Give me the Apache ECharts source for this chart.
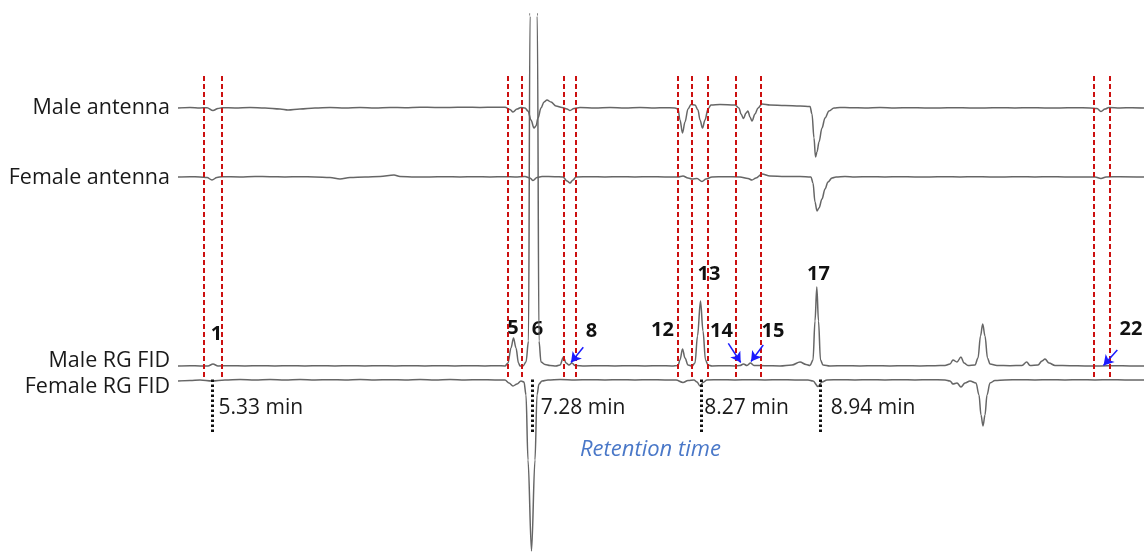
<!DOCTYPE html>
<html><head><meta charset="utf-8">
<script src="https://cdn.jsdelivr.net/npm/echarts@6/dist/echarts.min.js"></script>
<style>html,body{margin:0;padding:0;background:#fff}#c{width:1144px;height:554px}</style>
</head><body><div id="c"></div>
<script>
// ---- data (x = chromatogram position, signal = deflection from each trace's baseline) ----
const traceNames = ['Male antenna', 'Female antenna', 'Male RG FID', 'Female RG FID'];
const traceBaselines = [446, 377, 188, 174];

const maleAntenna = [[178,0],[190,0.5],[200,0],[207,0.3],[213,-2.5],[218,-0.5],[222,0.3],[235,0],[250,0.5],[265,0],[280,-1],[288,-2],[300,-1],[315,0],[330,0.5],[345,0],[360,0.5],[375,0],[390,0.5],[405,0.3],[420,0.8],[435,0.5],[450,0.5],[465,0.8],[480,0.5],[495,0.8],[505,0.8],[510,-1.5],[513,-4],[517,-1],[521,0.5],[525,0],[528,-3],[531,-12],[534,-20],[536,-18],[538,-10],[541,0],[544,6],[547,8],[551,6],[556,2],[562,0.5],[567,-1],[570,-2.5],[574,-0.5],[580,0.5],[595,0],[610,0.5],[625,0],[640,0.5],[655,0],[665,0.3],[675,0],[678,-1],[680,-12],[682.5,-25],[685,-14],[688,-1],[691,3.5],[695,3],[698,-2],[700,-12],[702.5,-20],[705,-12],[708,-1],[711,3],[720,3.5],[735,3],[739,0],[741,-6],[743.5,-10.5],[746,-5],[748,-3],[750,-9],[752,-13],[755,-6],[758,0],[762,4],[770,3],[785,2.5],[800,2],[810,1.5],[812,-6],[814,-30],[815.5,-49],[817,-44],[819,-34],[822,-20],[825,-10],[829,-3],[834,0],[840,0.5],[850,0.3],[865,0],[880,0.5],[895,0],[910,0.3],[925,0],[940,0],[955,0.3],[970,0],[985,0],[1000,0.3],[1015,0],[1030,0.3],[1045,0],[1060,0],[1075,0.3],[1090,0],[1097,-0.5],[1101,-3.5],[1105,-1],[1109,0.5],[1120,0],[1132,0.3],[1144,0]];

const femaleAntenna = [[178,0],[190,0.3],[200,0],[207,-0.5],[212,-3],[217,-0.5],[222,0.3],[240,0],[255,0.5],[270,0.3],[285,0],[300,0.3],[315,0],[330,-0.5],[340,-2],[350,-0.5],[365,0],[380,0.5],[394,2],[400,0.5],[415,0],[430,0],[445,0.3],[460,0],[475,0.3],[490,0],[505,0.3],[515,0],[525,0.5],[530,-1],[533,-3.5],[537,-0.5],[542,0.5],[555,0.3],[563,0],[567,-4],[570,-6],[573,-3],[576,0],[590,0.3],[605,0],[620,0.3],[635,0],[650,0.3],[665,0],[678,0],[683,1],[688,-1],[692,-2],[697,-1.5],[702,-4.5],[706,-2],[712,0],[725,0.3],[740,0],[748,-1.5],[752,-3],[756,-1],[762,3],[770,1],[785,0.5],[800,0.5],[811,0],[813,-6],[815,-25],[817,-34],[819,-31],[822,-22],[825,-12],[828,-5],[832,-1],[836,0],[845,0.5],[855,0],[870,0.3],[885,0],[900,0.3],[915,0],[930,0],[945,0.3],[960,0],[975,0.3],[990,0],[1005,0],[1020,0.3],[1035,0],[1050,0.3],[1065,0],[1080,0],[1095,0],[1101,-1.5],[1106,0],[1120,0.3],[1144,0]];

const maleFID = [[178,0],[190,0.3],[200,0],[208,0],[213,2],[218,0],[230,0.3],[245,0],[260,0.3],[275,0],[290,0.3],[305,0],[320,0.3],[335,0],[350,0.3],[365,0],[380,0.3],[395,0],[410,0.3],[425,0],[440,0.3],[455,0],[470,0.3],[485,0],[497,0.3],[505,0],[508,3],[511,18],[513.5,28],[516,18],[518.5,3],[520,0],[523,0],[526,4],[528.5,25],[530,350],[533.7,3000],[537.3,350],[539,25],[541,4],[545,1.5],[550,0.5],[556,0],[560,1],[563.5,9],[566,3],[569,1],[572,3],[575,0.5],[585,0],[600,0.3],[615,0],[630,0.3],[645,0],[660,0.3],[672,0],[678,0.5],[680,6],[682.5,17],[685,8],[688,1],[692,0],[695,3],[697.5,30],[700.5,65],[703,35],[705.5,6],[708,1],[712,0],[725,0.3],[735,0],[740,0.5],[743.5,2],[747,0.5],[750.5,3],[754,0.5],[765,0.3],[780,0],[792,1],[800,4],[806,1.5],[810,0.5],[813,6],[815,45],[816.8,79],[818.5,45],[820.5,6],[823,1],[830,0],[845,0.3],[860,0],[875,0.3],[890,0],[905,0.3],[920,0],[935,0.3],[945,0.5],[950,2],[953,6],[957,4],[961,9],[964,3],[968,0.5],[975,1],[978,8],[980.5,30],[982.7,42],[985,30],[987.5,8],[990,2],[997,0.5],[1010,0.3],[1022,0.5],[1026.7,4],[1030,0.5],[1038,1],[1042,5],[1045,7],[1049,3],[1055,0.5],[1070,0.3],[1085,0],[1100,0],[1115,0.3],[1130,0],[1144,0]];

const femaleFID = [[178,-1],[190,-0.5],[200,0],[212,-1],[225,0],[240,0.5],[255,0],[270,0.5],[285,0],[300,0.5],[315,0],[330,0.3],[345,0],[360,0.5],[375,0],[390,0.3],[405,0],[420,0.5],[435,0],[450,0.5],[465,0],[480,0.3],[495,0],[505,0],[509,-3],[513,-6],[517,-4],[521,-1],[524,-2],[526,-15],[528,-80],[531.5,-171],[535,-80],[537,-15],[539,-4],[542,-1],[548,0],[560,0.5],[575,0],[590,0.3],[605,0],[620,0.3],[635,0],[650,0.3],[665,0],[676,0],[683,-2.5],[688,-0.5],[694,0],[697,-2],[700,-6],[703,-2.5],[707,0],[720,0.3],[735,0],[750,0.3],[765,0],[780,0.3],[795,0],[808,0],[813,-1],[818,-6.5],[822,-2],[827,0],[840,0.3],[855,0],[870,0.3],[885,0],[900,0.3],[915,0],[930,0.3],[945,0],[950,-1],[953,-4],[957,-3],[961,-7],[965,-3],[970,-1],[976,-3],[979,-15],[981,-35],[983,-46],[985,-35],[987,-15],[990,-3],[995,-0.5],[1005,0],[1020,0.3],[1035,0],[1050,0.3],[1065,0],[1080,0.3],[1095,0],[1110,0.3],[1125,0],[1144,0]];

// EAD-active windows (red dashed lines), chromatogram positions
const eadLines = [203.3, 221.5, 507.5, 521.5, 563.5, 575.5, 677.5, 691.5, 707.5, 736, 761, 1093.5, 1109.3];
const eadLineRange = [177, 480];

// retention-time ticks
const timeTickPos = [212, 532.5, 701, 820.5];
const timeLabels = ['5.33 min', '7.28 min', '8.27 min', '8.94 min'];
const timeTickRange = [122, 177];

// peak numbers
const peakLabels = ['1', '5', '6', '8', '12', '13', '14', '15', '17', '22'];

// blue arrows (from, to) pointing to minor peaks
const arrows = [
  [[583.3, 206.7], [571, 191.5]],
  [[728.3, 210.7], [740.7, 191.5]],
  [[763.3, 209], [751, 192.5]],
  [[1117.3, 204], [1103.5, 188.5]]
];
const axisTitle = 'Retention time';

// ---- layout (pixels) ----
const traceLabelY = [108, 178, 361, 387];
const peakLabelXY = [[216.5,334],[513,328],[537.5,329],[591.5,331],[662.5,330],[709,274],[721.5,331],[773,331],[818.5,274],[1131,329]];
const timeLabelXY = [[218.5,408],[540.7,408],[704.3,408],[830.7,408]];

const chart = echarts.init(document.getElementById('c'), null, {renderer: 'canvas'});
const traces = [maleAntenna, femaleAntenna, maleFID, femaleFID];
const traceColor = '#666666';

const series = traces.map((t, i) => ({
  type: 'line',
  name: traceNames[i],
  data: t.map(p => [p[0], p[1] + traceBaselines[i]]),
  showSymbol: false,
  smooth: 0.35,
  smoothMonotone: 'x',
  lineStyle: {color: traceColor, width: 1.5},
  silent: true,
  z: 3
}));

series.push({
  type: 'line', data: [], silent: true, z: 5,
  markLine: {
    silent: true, animation: false, symbol: ['none', 'none'],
    label: {show: false},
    lineStyle: {color: '#cc1010', width: 2, type: [5, 3]},
    data: eadLines.map(x => [{coord: [x, eadLineRange[0]]}, {coord: [x, eadLineRange[1]]}])
  }
});
series.push({
  type: 'line', data: [], silent: true, z: 5,
  markLine: {
    silent: true, animation: false, symbol: ['none', 'none'],
    label: {show: false},
    lineStyle: {color: '#111', width: 3, type: [2.5, 2.5]},
    data: timeTickPos.map(x => [{coord: [x, timeTickRange[0]]}, {coord: [x, timeTickRange[1]]}])
  }
});
series.push({
  type: 'line', data: [], silent: true, z: 6,
  markLine: {
    silent: true, animation: false, symbol: ['none', 'arrow'], symbolSize: [9, 10],
    label: {show: false},
    lineStyle: {color: '#1a1aff', width: 1.5, type: 'solid'},
    data: arrows.map(a => [{coord: a[0]}, {coord: a[1]}])
  }
});

const font = '"Open Sans", "DejaVu Sans", sans-serif';
const graphics = [];
traceNames.forEach((n, i) => graphics.push({
  type: 'text', x: 170, y: traceLabelY[i],
  style: {text: n, font: '21.5px ' + font, fill: '#1a1a1a', textAlign: 'right', textVerticalAlign: 'middle'}
}));
peakLabels.forEach((n, i) => graphics.push({
  type: 'text', x: peakLabelXY[i][0], y: peakLabelXY[i][1],
  style: {text: n, font: 'bold 20px ' + font, fill: '#111', textAlign: 'center', textVerticalAlign: 'middle'}
}));
timeLabels.forEach((n, i) => graphics.push({
  type: 'text', x: timeLabelXY[i][0], y: timeLabelXY[i][1],
  style: {text: n, font: '21px ' + font, fill: '#1a1a1a', textAlign: 'left', textVerticalAlign: 'middle'}
}));
graphics.push({
  type: 'text', x: 580, y: 450,
  style: {text: axisTitle, font: 'italic 22px ' + font, fill: '#4a78c8', textAlign: 'left', textVerticalAlign: 'middle'}
});

chart.setOption({
  animation: false,
  backgroundColor: '#fff',
  grid: {left: 0, right: 0, top: 14, bottom: 0},
  xAxis: {type: 'value', min: 0, max: 1144, show: false},
  yAxis: {type: 'value', min: 0, max: 540, show: false},
  series: series,
  graphic: graphics
});
</script>
</body></html>
